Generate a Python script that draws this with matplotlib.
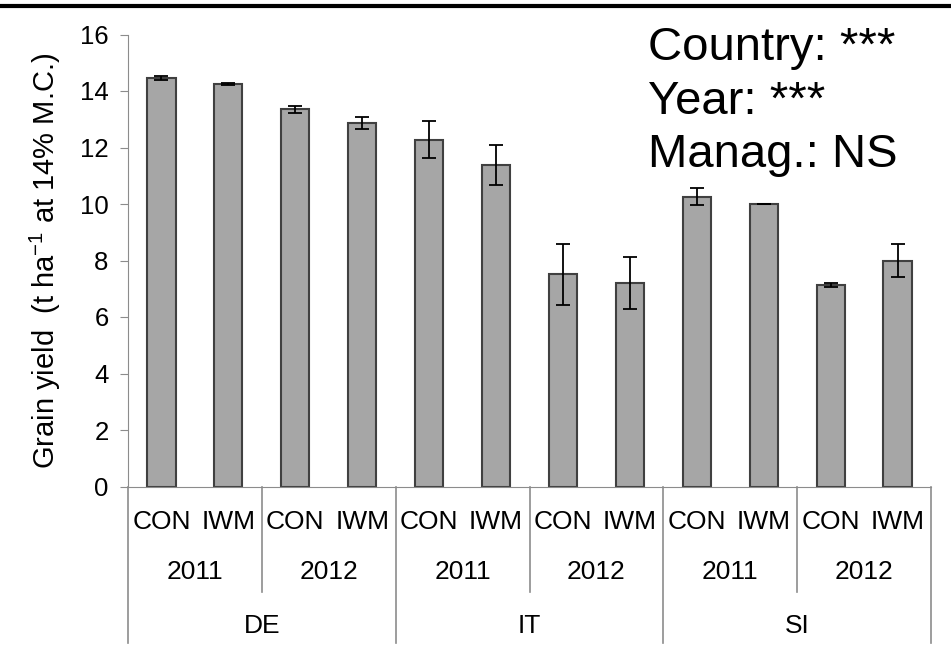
import matplotlib.pyplot as plt
from matplotlib.lines import Line2D

plt.rcParams['font.family'] = ['Liberation Sans', 'DejaVu Sans']
plt.rcParams['mathtext.fontset'] = 'custom'
plt.rcParams['mathtext.rm'] = 'Liberation Sans'

# data
countries = ['DE', 'IT', 'SI']
years = ['2011', '2012']
managements = ['CON', 'IWM']
yields = [14.45, 14.25, 13.35, 12.87, 12.28, 11.38, 7.51, 7.21, 10.25, 10.0, 7.12, 7.99]
errors = [0.07, 0.03, 0.12, 0.20, 0.65, 0.70, 1.07, 0.93, 0.30, 0.0, 0.07, 0.59]
notes = ['Country: ***', 'Year: ***', 'Manag.: NS']

grey = '#8c8c8c'
n = len(yields)
x = list(range(n))

fig = plt.figure(figsize=(9.51, 6.51), dpi=100)
ax = fig.add_axes([128/951, 1-486.5/651, (931-128)/951, (486.5-34.5)/651])

ax.bar(x, yields, width=0.42, color='#a6a6a6', edgecolor='#404040', linewidth=1.5, zorder=2)
ax.errorbar(x, yields, yerr=errors, fmt='none', ecolor='black', elinewidth=1.3,
            capsize=5, capthick=1.3, zorder=3)

ax.set_xlim(-0.5, n - 0.5)
ax.set_ylim(0, 16)
ax.set_yticks(range(0, 17, 2))
ax.tick_params(axis='y', direction='out', length=6, color=grey, labelsize=18.5, pad=8)
ax.set_xticks([])
for s in ['top', 'right']:
    ax.spines[s].set_visible(False)
ax.spines['left'].set_color(grey)
ax.spines['bottom'].set_color(grey)

ax.set_ylabel(r'Grain yield  (t ha$^{\mathregular{-1}}$ at 14% M.C.)', fontsize=21, labelpad=12)

# category axis
tr = ax.get_xaxis_transform()
for i in range(n):
    ax.text(x[i], -0.078, managements[i % 2], transform=tr, ha='center', va='center', fontsize=19)
for g in range(n // 2):
    ax.text(2 * g + 0.5, -0.19, years[g % 2], transform=tr, ha='center', va='center', fontsize=19)
for c in range(len(countries)):
    ax.text(4 * c + 1.5, -0.308, countries[c], transform=tr, ha='center', va='center', fontsize=19)
for k in range(n // 2 + 1):
    xe = 2 * k - 0.5
    bottom = -0.346 if k % 2 == 0 else -0.233
    ax.plot([xe, xe], [0, bottom], transform=tr, color=grey, lw=1.2, clip_on=False)

# annotations
for j, t in enumerate(notes):
    ax.text(0.648, 1.018 - j * 0.118, t, transform=ax.transAxes, ha='left', va='top', fontsize=34)

fig.add_artist(Line2D([0, 1], [1 - 5.5/651, 1 - 5.5/651], transform=fig.transFigure,
                      color='black', lw=3))

fig.savefig('out.png', dpi=100)
